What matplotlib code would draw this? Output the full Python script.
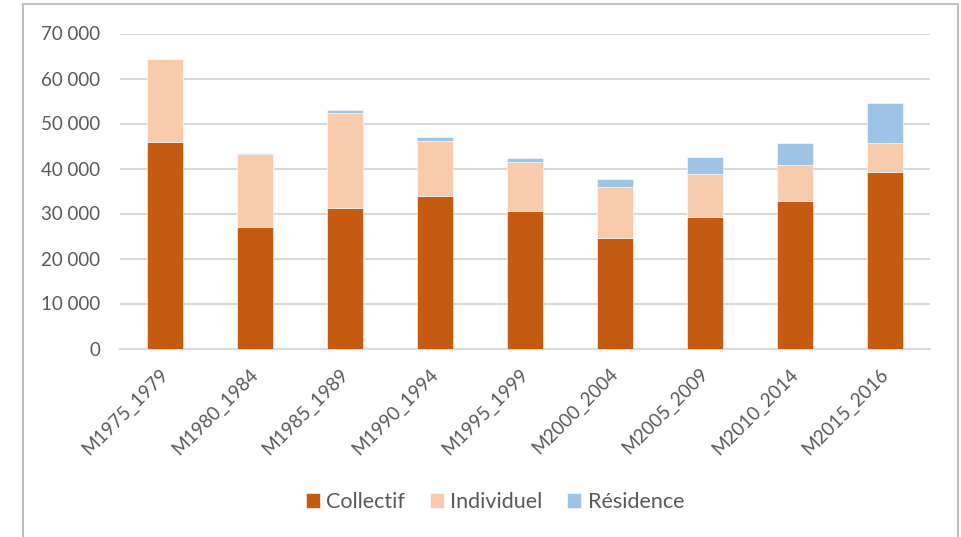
import matplotlib
matplotlib.use("Agg")
import matplotlib.pyplot as plt
from matplotlib.patches import Rectangle
from matplotlib.ticker import FuncFormatter
from matplotlib.transforms import ScaledTranslation
import numpy as np

periods = ["M1975_1979", "M1980_1984", "M1985_1989", "M1990_1994", "M1995_1999",
           "M2000_2004", "M2005_2009", "M2010_2014", "M2015_2016"]
collectif = [45800, 26900, 31300, 33900, 30600, 24600, 29300, 32700, 39300]
individuel = [18500, 16400, 21000, 12300, 10800, 11200, 9500, 8000, 6400]
residence = [0, 200, 800, 700, 900, 1900, 3700, 4900, 8900]

plt.rcParams['font.family'] = ['Lato', 'DejaVu Sans']
txt_color = '#595959'

fig = plt.figure(figsize=(9.62, 5.37), dpi=100)
ax = fig.add_axes([120 / 962, 188.5 / 537, 810 / 962, 315 / 537])

# chart border like Excel
fig.patches.append(Rectangle((23 / 962, -0.1), 935 / 962, 1.1 - 4 / 537,
                             transform=fig.transFigure, fill=False,
                             edgecolor='#BFBFBF', linewidth=1.5))

x = np.arange(len(periods))
col = np.array(collectif)
ind = np.array(individuel)
res = np.array(residence)

ax.bar(x, col, width=0.4, color='#C55A11', edgecolor='white', linewidth=0.4,
       label='Collectif', zorder=3)
ax.bar(x, ind, width=0.4, bottom=col, color='#F8CBAD', edgecolor='white',
       linewidth=0.4, label='Individuel', zorder=3)
ax.bar(x, res, width=0.4, bottom=col + ind, color='#9DC3E6', edgecolor='white',
       linewidth=0.4, label='Résidence', zorder=3)

ax.set_xlim(-0.5, len(periods) - 0.5)
ax.set_ylim(0, 70000)
ax.set_yticks(np.arange(0, 70001, 10000))
ax.yaxis.set_major_formatter(FuncFormatter(lambda v, p: f"{int(v):,}".replace(",", " ")))
ax.grid(axis='y', color='#D9D9D9', linewidth=1.5, zorder=0)

for s in ['top', 'right', 'left']:
    ax.spines[s].set_visible(False)
ax.spines['bottom'].set_color('#D9D9D9')
ax.spines['bottom'].set_linewidth(1.5)

ax.tick_params(axis='y', length=0, pad=14, labelsize=13.5, labelcolor=txt_color)
ax.tick_params(axis='x', length=0, pad=12, labelsize=13.5, labelcolor=txt_color)
ax.set_xticks(x)
ax.set_xticklabels(periods, rotation=45, ha='right', rotation_mode='anchor')
shift = ScaledTranslation(-6 / 100, 0, fig.dpi_scale_trans)
for lbl in ax.get_xticklabels():
    lbl.set_transform(lbl.get_transform() + shift)

leg = fig.legend(loc='center', bbox_to_anchor=(495 / 962, 1 - 502 / 537), ncol=3,
                 frameon=False, fontsize=15.5, handlelength=0.65, handleheight=0.65,
                 handletextpad=0.3, columnspacing=1.15)
for t in leg.get_texts():
    t.set_color(txt_color)

fig.savefig("out.png", dpi=100)
